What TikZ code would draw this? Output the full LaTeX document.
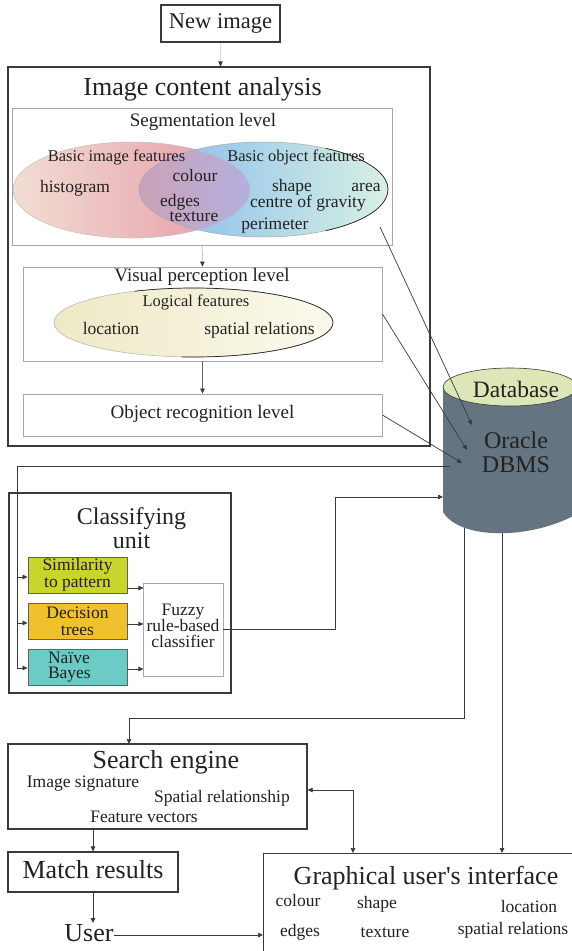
\documentclass[tikz,border=0pt]{standalone}
\usepackage{fontspec}
\setmainfont{Liberation Serif}
\newfontfamily\rawserif{Liberation Serif}
\usetikzlibrary{arrows.meta,calc}

\newcommand\fsz[2]{\fontsize{#1}{#2}\selectfont}

\definecolor{inkc}{HTML}{222222}
\definecolor{linec}{HTML}{3A3A3A}
\definecolor{levelc}{HTML}{A8A8A8}
\definecolor{dbbody}{HTML}{647480}
\definecolor{dbtop}{HTML}{DCE6B6}
\definecolor{simfill}{HTML}{C9D42C}
\definecolor{decfill}{HTML}{F0C02E}
\definecolor{nbfill}{HTML}{6CCBC6}
\definecolor{redL}{HTML}{F2DDD3}
\definecolor{redR}{HTML}{E597A6}
\definecolor{bluL}{HTML}{82B8F0}
\definecolor{bluR}{HTML}{D8F0E2}
\definecolor{purL}{HTML}{CBA2B8}
\definecolor{purR}{HTML}{B3B0DE}
\definecolor{yelL}{HTML}{EEE9C6}
\definecolor{yelM}{HTML}{F3EAAA}
\definecolor{yelR}{HTML}{FBF9EC}

\begin{document}
\begin{tikzpicture}[x=1pt,y=-1pt,
  every node/.style={text=inkc},
  arr/.style={-{Triangle[length=5pt,width=4.5pt]}},
  wire/.style={draw=linec,line width=0.7pt},
  boxframe/.style={draw=linec,line width=1.2pt,rectangle,inner sep=0pt},
  lvlbox/.style={draw=levelc,line width=0.9pt,rectangle,inner sep=0pt},
  cbox/.style={draw=linec!80,line width=0.8pt,rectangle,inner sep=0pt},
  txtbig/.style={inner sep=0pt,font=\fsz{26}{28},text height=18pt,text depth=5.5pt},
  txtmid/.style={inner sep=0pt,font=\fsz{19}{21},text height=13pt,text depth=4pt},
  txtsmall/.style={inner sep=0pt,font=\fsz{17.5}{19},text height=11.5pt,text depth=3pt},
  txthead/.style={inner sep=0pt,font=\fsz{16.5}{18},text height=11pt,text depth=3pt},
]
\useasboundingbox (0,0) rectangle (571,951);
\fill[white] (0,0) rectangle (571,951);

% ---------- input ----------
\node[boxframe,minimum width=119pt,minimum height=37pt,font=\fsz{22.5}{24}] (newimg) at (220.5,23.5) {New image};

% ---------- image content analysis ----------
\node[boxframe,minimum width=422pt,minimum height=379pt] (ica) at (219,256.5) {};
\node[txtbig] (icatitle) at (202.5,89) {Image content analysis};

% segmentation level
\node[lvlbox,minimum width=380pt,minimum height=137pt] (seg) at (202,176.5) {};
\node[txtmid] (segtitle) at (203,122) {Segmentation level};

\shade[left color=redL,right color=redR] (131.5,190) ellipse [x radius=118.5pt,y radius=48pt];
\shade[left color=bluL,right color=bluR] (263.5,189.5) ellipse [x radius=124.5pt,y radius=47.5pt];
\begin{scope}
  \clip (131.5,190) ellipse [x radius=118.5pt,y radius=48pt];
  \clip (263.5,189.5) ellipse [x radius=124.5pt,y radius=47.5pt];
  \shade[left color=purL,right color=purR] (139,140) rectangle (250,240);
\end{scope}
\draw[black!25,line width=0.5pt] (131.5,190) ellipse [x radius=118.5pt,y radius=48pt];
\draw[black!35,line width=0.5pt] (263.5,189.5) ellipse [x radius=124.5pt,y radius=47.5pt];
\draw[black!85,line width=0.7pt] (263.5,189.5) ++(-60:124.5pt and 47.5pt)
  arc[start angle=-60,end angle=60,x radius=124.5pt,y radius=47.5pt];

\node[txthead] (bif) at (116.5,157) {Basic image features};
\node[txthead] (bof) at (296,157) {Basic object features};
\node[txtsmall] (hist) at (75,188) {histogram};
\node[txtsmall] (colA) at (195,177) {colour};
\node[txtsmall] (edgA) at (180,202) {edges};
\node[txtsmall] (texA) at (194,217) {texture};
\node[txtsmall] (shpA) at (292,187) {shape};
\node[txtsmall] (area) at (366,187) {area};
\node[txtsmall] (cog) at (308,203) {centre of gravity};
\node[txtsmall] (peri) at (275,225) {perimeter};

% visual perception level
\node[lvlbox,minimum width=359pt,minimum height=94pt] (vis) at (202.5,314) {};
\node[txtmid] (vistitle) at (202,277) {Visual perception level};
\shade[left color=yelL,middle color=yelM,right color=yelR] (193.5,322.5) ellipse [x radius=139.5pt,y radius=34.5pt];
\draw[black!30,line width=0.5pt] (193.5,322.5) ellipse [x radius=139.5pt,y radius=34.5pt];
\draw[black!85,line width=0.7pt] (193.5,322.5) ++(-95:139.5pt and 34.5pt)
  arc[start angle=-95,end angle=115,x radius=139.5pt,y radius=34.5pt];
\node[txthead] (logf) at (196,302) {Logical features};
\node[txtsmall] (locA) at (111,330) {location};
\node[txtsmall] (sprA) at (259.5,330) {spatial relations};

% object recognition level
\node[lvlbox,minimum width=359pt,minimum height=42pt] (obj) at (202.5,415) {};
\node[txtmid] (objtitle) at (202.5,414) {Object recognition level};

% ---------- classifying unit ----------
\node[boxframe,line width=1.1pt,minimum width=222pt,minimum height=200pt] (cls) at (120,593) {};
\node[inner sep=0pt,align=center,font=\fsz{24}{24}] (clstitle) at (131.5,528) {Classifying\\unit};
\node[cbox,fill=simfill,minimum width=99pt,minimum height=36pt,align=center,font=\fsz{17.5}{17}] (sim) at (77.5,575) {Similarity\\to pattern};
\node[cbox,fill=decfill,minimum width=99pt,minimum height=36pt,align=center,font=\fsz{17.5}{17}] (dec) at (77.5,621) {Decision\\trees};
\node[cbox,fill=nbfill,minimum width=99pt,minimum height=36pt,text width=59pt,inner xsep=20pt,align=left,font=\fsz{17.5}{15}] (nb) at (77.5,667) {Naïve\\Bayes};
\node[draw=levelc,line width=0.8pt,rectangle,fill=white,minimum width=80pt,minimum height=93pt] (fuzzy) at (183,629.5) {};
\node[inner sep=0pt,align=center,font=\fsz{17.5}{16}] (fuzzytext) at (183,626) {Fuzzy\\rule-based\\classifier};

% ---------- search side ----------
\node[boxframe,minimum width=299pt,minimum height=85pt] (search) at (157.5,786.5) {};
\node[txtbig] (setitle) at (166,762) {Search engine};
\node[txtsmall] (isig) at (83,783) {Image signature};
\node[txtsmall] (srel) at (222,798) {Spatial relationship};
\node[txtsmall] (fvec) at (144,818) {Feature vectors};

\node[boxframe,minimum width=170pt,minimum height=40pt,txtbig] (match) at (93,872) {Match results};
\node[txtbig] (user) at (89,935) {User};

\node[boxframe,minimum width=340pt,minimum height=130pt,anchor=north west] (gui) at (263,853) {};
\node[txtbig] (guititle) at (426,878) {Graphical user{\rawserif'}s interface};
\node[txtsmall] (colB) at (298,902) {colour};
\node[txtsmall] (shpB) at (377,904) {shape};
\node[txtsmall] (locB) at (529,908) {location};
\node[txtsmall] (edgB) at (300,932) {edges};
\node[txtsmall] (texB) at (385,933) {texture};
\node[txtsmall] (sprB) at (513,930) {spatial relations};

% ---------- connector end points ----------
\coordinate (segOut) at (380,227);
\coordinate (dbIn1) at (472,425);
\coordinate (dbIn2) at (467,450);
\coordinate (dbIn3) at (462,463);
\coordinate (dbOutL) at (450,466);
\coordinate (dbIn4) at (443,497);
\coordinate (dbOutB1) at (464,522);
\coordinate (dbOutB2) at (502,522);
\coordinate (seIn) at (129,744);
\coordinate (guiIn1) at (353,853);
\coordinate (guiIn2) at (502,853);

% lines leaving the database (drawn below the cylinder)
\draw[wire,arr] (dbOutB1) |- (129,718) -- (seIn);
\draw[wire,arr] (dbOutB2) -- (guiIn2);

% ---------- database ----------
\fill[dbbody] (443,387) -- (443,512) .. controls (460,540) and (530,540) .. (577,514) -- (577,387) -- cycle;
\filldraw[fill=dbtop,draw=linec,line width=0.6pt] (510,387) ellipse [x radius=67pt,y radius=19pt];
\node[inner sep=0pt,font=\fsz{23.5}{24}] (dbtitle) at (516,389) {Database};
\node[inner sep=0pt,align=center,font=\fsz{24}{24}] (dbms) at (516,452) {Oracle\\DBMS};

% ---------- connectors ----------
\draw[draw=black!15,line width=0.7pt,-{Triangle[length=5pt,width=4.5pt,color=linec]}] (newimg.south) -- (newimg.south |- ica.north);
\draw[draw=black!30,line width=0.7pt,-{Triangle[length=5pt,width=4.5pt,color=linec]}] (seg.south) -- (vis.north);
\draw[draw=black!60,line width=0.7pt,-{Triangle[length=5pt,width=4.5pt,color=linec]}] (vis.south) -- (obj.north);

\draw[wire,arr] (segOut) -- (dbIn1);
\draw[wire,arr] (vis.east) -- (dbIn2);
\draw[wire,arr] (obj.east) -- (dbIn3);

\draw[wire,arr] (dbOutL) -| ([xshift=-10pt,yshift=-1pt]nb.west) -- ([yshift=-1pt]nb.west);
\draw[wire,arr] ([xshift=-10pt,yshift=-2pt]sim.west) -- ([yshift=-2pt]sim.west);
\draw[wire,arr] ([xshift=-10pt,yshift=-2pt]dec.west) -- ([yshift=-2pt]dec.west);

\draw[wire,arr] ([yshift=-13pt]sim.east) -- ++(16,0);
\draw[wire,arr] ([yshift=-3pt]dec.east) -- ++(16,0);
\draw[wire,arr] ([yshift=-2pt]nb.east) -- ++(16,0);

\draw[wire,arr] (fuzzy.east) -- ++(112,0) |- (dbIn4);

\draw[wire,{Triangle[length=5pt,width=4.5pt]}-{Triangle[length=5pt,width=4.5pt]}] ([yshift=-3.5pt]search.east) -| (guiIn1);
\draw[wire,arr] (search.south -| match.north) -- (match.north);
\draw[wire,arr] (match.south) -- (match.south |- user.north);
\draw[wire,arr] (user.east) -- (user.east -| gui.west);
\end{tikzpicture}
\end{document}
